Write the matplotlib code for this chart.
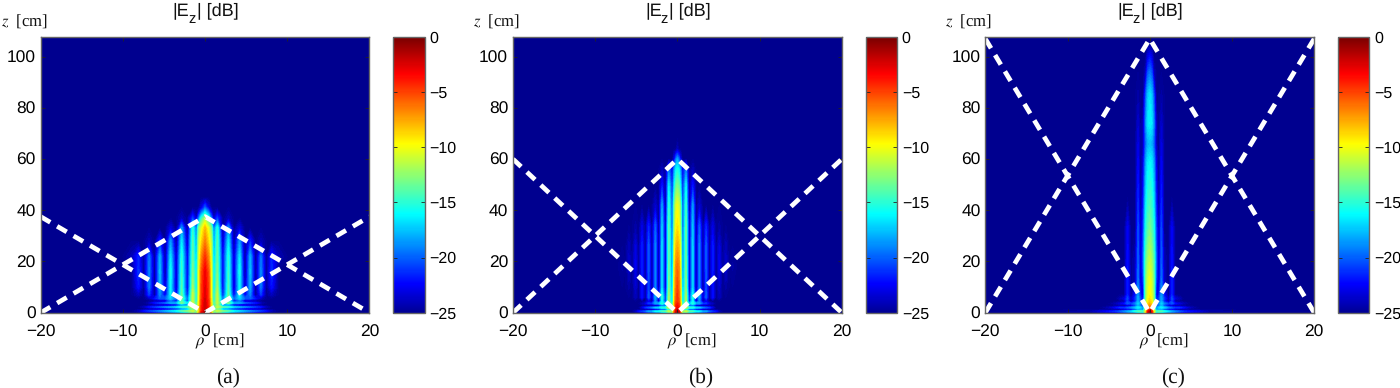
import numpy as np
import matplotlib
matplotlib.use("Agg")
import matplotlib.pyplot as plt
from matplotlib.cm import ScalarMappable
from matplotlib.colors import LinearSegmentedColormap, Normalize

plt.rcParams["font.family"] = ["Liberation Sans", "DejaVu Sans"]
plt.rcParams["mathtext.fontset"] = "stix"
plt.rcParams["lines.scale_dashes"] = False
plt.rcParams["text.hinting"] = "no_hinting"

W, H = 1400, 388
X_TICKS = [-20, -10, 0, 10, 20]
Z_TICKS = [0, 20, 40, 60, 80, 100]
CBAR_TICKS = [-25, -20, -15, -10, -5, 0]
Z_MAX = 107.8
CAPTIONS = ["(a)", "(b)", "(c)"]
# z where the dashed lines meet on the axis
APEX = [37.5, 60, 107]

# half-maps: columns are rho >= 0 (peaks and troughs of the lobes), rows are z
bg = -25

rho_a = [0, .45, .8, 1.05, 1.5, 2.15, 2.85, 3.5, 4.2, 4.85, 5.5, 6.15, 6.8, 7.45, 8.1, 8.9, 10, 20]
z_a = [0, .7, 1.4, 2.2, 3, 3.8, 4.6, 5.5, 7, 10, 16, 22, 28, 33, 37, 41, 45, 108]
field_a = [
    [-1, -3, -9, -13, -13, -16, -18, -19, -20, -21, -22, -23, -24, bg, bg, bg, bg, bg],
    [-1.5, -4, -10, -13, -11, -13, -14, -16, -17, -18, -19, -20, -21, -22, -24, bg, bg, bg],
    [-2, -4, -10, -15, -14, -20, -21, -23, -24, bg, bg, bg, bg, bg, bg, bg, bg, bg],
    [-2, -4, -10, -14, -11, -14, -15, -17, -18, -19, -20, -21, -22, -24, bg, bg, bg, bg],
    [-2, -4.5, -10, -15, -12, -20, -20, -24, bg, bg, bg, bg, bg, bg, bg, bg, bg, bg],
    [-2, -4.5, -10, -15, -11, -17, -13, -18, -18, -20, -21, -22, -24, bg, bg, bg, bg, bg],
    [-2.2, -4.5, -10.5, -16, -11, -21, -14, -23, -20, bg, bg, bg, bg, bg, bg, bg, bg, bg],
    [-2.3, -5, -10.5, -16, -11, -20, -13, -20, -17, -20, -20, -22, -24, bg, bg, bg, bg, bg],
    [-2.5, -5, -11, -16, -11, -22, -13.5, -23, -16, -23, -19, bg, -21, bg, -24, bg, bg, bg],
    [-2.7, -5, -11, -17, -12, -23, -14, -24, -16, -24, -18, bg, -19.5, bg, -22, bg, bg, bg],
    [-3, -5.5, -11, -17, -13, -23, -14.5, -24, -15.5, bg, -17.5, bg, -19, bg, -21, bg, bg, bg],
    [-4.5, -7, -11.5, -18, -13.5, -23, -15, -24, -16.5, bg, -18, bg, -19.5, bg, -21.5, -24, bg, bg],
    [-6.5, -9, -12, -19, -14, -24, -16.5, bg, -18.5, bg, -21.5, bg, -24, bg, bg, bg, bg, bg],
    [-8, -10.5, -13.5, -20, -15, bg, -18.5, bg, -23, bg, bg, bg, bg, bg, bg, bg, bg, bg],
    [-12, -15, -20, -24, -21, bg, -24, bg, bg, bg, bg, bg, bg, bg, bg, bg, bg, bg],
    [-20, -23, bg, bg, bg, bg, bg, bg, bg, bg, bg, bg, bg, bg, bg, bg, bg, bg],
    [bg] * 18,
    [bg] * 18,
]

rho_b = [0, .2, .4, .62, 1.05, 1.45, 1.87, 2.27, 2.68, 3.1, 3.5, 3.9, 4.3, 4.7, 5.1, 5.5, 5.9, 6.3, 6.7, 7.2, 20]
z_b = [0, .6, 1.2, 2, 2.8, 3.6, 4.5, 6, 10, 18, 26, 34, 42, 50, 56, 60, 64, 68, 108]
field_b = [
    [-1, -2, -6, -13, -14, -17, -18, -19, -20, -21, -22, -23, -24, bg, bg, bg, bg, bg, bg, bg, bg],
    [-2, -3, -7, -13, -11, -14, -14, -16, -16, -18, -18, -20, -21, -22, -24, bg, bg, bg, bg, bg, bg],
    [-2.5, -3.5, -8, -16, -16, -21, -21, -23, -24, bg, bg, bg, bg, bg, bg, bg, bg, bg, bg, bg, bg],
    [-3, -4, -8, -14, -11, -15, -15, -17, -17, -19, -20, -21, -23, bg, bg, bg, bg, bg, bg, bg, bg],
    [-3.5, -4.5, -8.5, -17, -14, -21, -20, -24, bg, bg, bg, bg, bg, bg, bg, bg, bg, bg, bg, bg, bg],
    [-4, -5, -8.5, -16, -12, -18, -15, -18, -18, -21, -21, -23, -24, bg, bg, bg, bg, bg, bg, bg, bg],
    [-4.5, -5.5, -9, -18, -12, -22, -16, bg, -19, bg, -23, bg, bg, bg, bg, bg, bg, bg, bg, bg, bg],
    [-4.5, -6, -9, -18, -12, -22, -15, -23, -18, -24, -20, bg, -22, bg, -24, bg, bg, bg, bg, bg, bg],
    [-5, -6.5, -9.5, -19, -13, -24, -17, bg, -19, bg, -20.5, bg, -22, bg, -23.5, bg, -24.5, bg, bg, bg, bg],
    [-6, -7, -10.5, -20, -13.5, -24, -17, bg, -19, bg, -20, bg, -21.5, bg, -22.5, bg, -23.5, bg, -24.5, bg, bg],
    [-7.5, -8.5, -11.5, -20, -14, -24, -17, bg, -19, bg, -20, bg, -21.5, bg, -23, bg, -24, bg, bg, bg, bg],
    [-9, -10, -13, -21, -14, -24, -17.5, bg, -20, bg, -21.5, bg, -23, bg, -24.5, bg, bg, bg, bg, bg, bg],
    [-10, -11, -14, -21, -15, bg, -18.5, bg, -23.5, bg, bg, bg, bg, bg, bg, bg, bg, bg, bg, bg, bg],
    [-13, -14, -17, -22, -16.5, bg, -22, bg, bg, bg, bg, bg, bg, bg, bg, bg, bg, bg, bg, bg, bg],
    [-15.5, -16.5, -19, -23, -19.5, bg, -24, bg, bg, bg, bg, bg, bg, bg, bg, bg, bg, bg, bg, bg, bg],
    [-18, -20, -23, bg, bg, bg, bg, bg, bg, bg, bg, bg, bg, bg, bg, bg, bg, bg, bg, bg, bg],
    [-24, bg, bg, bg, bg, bg, bg, bg, bg, bg, bg, bg, bg, bg, bg, bg, bg, bg, bg, bg, bg],
    [bg] * 21,
    [bg] * 21,
]

rho_c = [0, .25, .5, .8, 1.1, 1.42, 1.75, 2.3, 2.7, 3.1, 3.6, 4.1, 5, 6, 7.5, 20]
z_c = [0, .6, 1.2, 2, 2.8, 3.6, 4.5, 5.5, 7, 13, 20, 33, 45, 59, 66, 74, 85, 94, 100, 105, 108]
field_c = [
    [-1, -3, -10, -16, -16, -17, -18, -19, -20, -21, -22, -23, -24, -24.5, bg, bg],
    [-2, -4, -10, -15, -14, -14, -15, -17, -18, -19, -20, -21, -22, -23, -24.5, bg],
    [-4, -6, -11, -19, -19, -19, -21, -23, -23, -24, bg, bg, bg, bg, bg, bg],
    [-6, -7, -12, -19, -17, -16, -17, -19, -20, -21, -21, -22, -24, bg, bg, bg],
    [-7, -8, -12, -21, -20, -18, -21, -24, -24, bg, bg, bg, bg, bg, bg, bg],
    [-8, -9, -12.5, -21, -19, -17, -19, -21, -20, -22, -23, -24, bg, bg, bg, bg],
    [-8.5, -9.5, -13, -22, -21, -18, -22, bg, -21, bg, bg, bg, bg, bg, bg, bg],
    [-9, -10, -13, -22, -21, -18, -21, -24, -20.5, -23, -24, bg, bg, bg, bg, bg],
    [-9.5, -10.5, -13, -23, -22, -18.5, -22, bg, -21.5, bg, bg, bg, bg, bg, bg, bg],
    [-10, -11, -13.5, -21, -24, -19.5, -24, bg, -21.5, bg, bg, bg, bg, bg, bg, bg],
    [-11, -12, -14, -20, -24, -20, -24, bg, -22, bg, bg, bg, bg, bg, bg, bg],
    [-13, -14, -15.5, -21, -24, -20.5, bg, bg, -22.5, bg, bg, bg, bg, bg, bg, bg],
    [-14.5, -15, -17, -22, bg, -21.5, bg, bg, bg, bg, bg, bg, bg, bg, bg, bg],
    [-16, -16.5, -18.5, -23, bg, -22.5, bg, bg, bg, bg, bg, bg, bg, bg, bg, bg],
    [-17.5, -18, -20, -24, bg, -23, bg, bg, bg, bg, bg, bg, bg, bg, bg, bg],
    [-16, -16.5, -19, -24, bg, -23.5, bg, bg, bg, bg, bg, bg, bg, bg, bg, bg],
    [-16.5, -17.5, -20.5, bg, bg, -24.5, bg, bg, bg, bg, bg, bg, bg, bg, bg, bg],
    [-19.5, -20.5, -24, bg, bg, bg, bg, bg, bg, bg, bg, bg, bg, bg, bg, bg],
    [-22, -23, bg, bg, bg, bg, bg, bg, bg, bg, bg, bg, bg, bg, bg, bg],
    [bg] * 16,
    [bg] * 16,
]

PANELS = [(rho_a, z_a, field_a), (rho_b, z_b, field_b), (rho_c, z_c, field_c)]

# pixel layout: axes left, axes right, colorbar left, colorbar right
AX_TOP, AX_BOTTOM = 36.7, 312.7
LAYOUT = [(40.7, 369.4, 393.3, 424.7), (513, 841.8, 865.7, 897), (985.3, 1314.2, 1338, 1369.3)]

MATLAB_JET = LinearSegmentedColormap.from_list(
    "matlab_jet",
    [(0, "#00008f"), (0.111, "#0000ff"), (0.365, "#00ffff"), (0.619, "#ffff00"),
     (0.873, "#ff0000"), (1, "#800000")],
    N=256,
)
LEVELS = np.linspace(-25, 0, 65)
TEXT = "#111111"
DASH = (0, (8, 5.7))


def px_axes(fig, left, right):
    return fig.add_axes([left / W, 1 - AX_BOTTOM / H, (right - left) / W, (AX_BOTTOM - AX_TOP) / H])


def px_text(fig, x, y, s, **kw):
    return fig.text(x / W, 1 - y / H, s, va="baseline", color=TEXT, **kw)


fig = plt.figure(figsize=(W / 100, H / 100), dpi=100)

for (rho, z, field), apex, cap, (l, r, cl, cr) in zip(PANELS, APEX, CAPTIONS, LAYOUT):
    ax = px_axes(fig, l, r)
    half = np.array(field, dtype=float)
    rho_half = np.array(rho)
    full = np.hstack([half[:, :0:-1], half])
    rho_full = np.concatenate([-rho_half[:0:-1], rho_half])
    ax.contourf(rho_full, z, full, levels=LEVELS, cmap=MATLAB_JET, extend="both", antialiased=False)

    # the two dashed polylines, each one stroke so the dash phase carries through the corner
    ax.plot([-20, 0, 20], [0, apex, 0], color="white", lw=3.4, ls=DASH, dash_capstyle="butt")
    ax.plot([-20, 0, 20], [apex, 0, apex], color="white", lw=3.4, ls=DASH, dash_capstyle="butt")

    ax.set_xlim(-20, 20)
    ax.set_ylim(0, Z_MAX)
    ax.set_xticks(X_TICKS)
    ax.set_yticks(Z_TICKS)
    ax.tick_params(direction="in", length=3, width=0.6, labelsize=12.5, top=True, right=True, color="#222222")
    ax.tick_params(axis="x", pad=8.5)
    ax.tick_params(axis="y", pad=3.5)
    for s in ax.spines.values():
        s.set_color("#666666")
        s.set_linewidth(1.0)

    # title pieces, placed relative to the axes left edge
    px_text(fig, l + 132, 14.7, "|E", fontsize=13, ha="left")
    px_text(fig, l + 147.5, 22.7, "z", fontsize=10.5, ha="left")
    px_text(fig, l + 156, 14.7, "| [dB]", fontsize=13, ha="left")
    px_text(fig, l - 40, 26.5, r"$z$  [cm]", fontsize=12, ha="left", family=["Liberation Serif"])
    px_text(fig, l + 154, 346, r"$\rho$  [cm]", fontsize=12, ha="left", family=["Liberation Serif"])
    px_text(fig, l + 187.5, 382.5, cap, fontsize=15.5, ha="center", family=["Liberation Serif"])

    cax = px_axes(fig, cl, cr)
    cb = fig.colorbar(ScalarMappable(Normalize(-25, 0), MATLAB_JET), cax=cax, ticks=CBAR_TICKS)
    cb.ax.tick_params(direction="in", length=3, width=0.6, labelsize=11.5, pad=3.5, color="#222222",
                      left=True, right=True)
    cb.solids.set_edgecolor("face")
    cb.outline.set_edgecolor("#666666")
    cb.outline.set_linewidth(1.0)

fig.savefig("out.png", dpi=100)
